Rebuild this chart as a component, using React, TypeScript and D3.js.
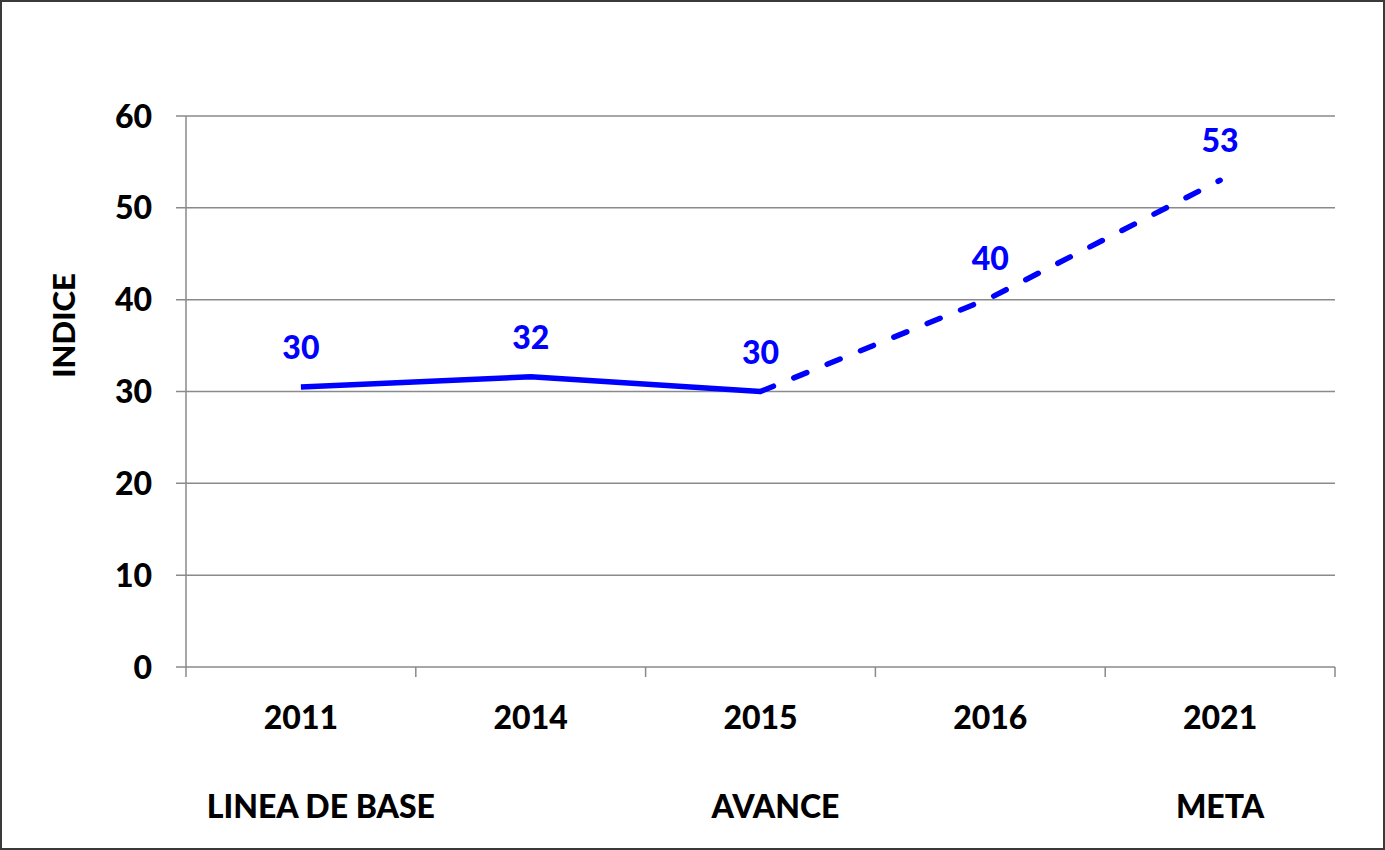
import React, { useEffect, useRef } from "react";
import * as d3 from "d3";

const years = ["2011", "2014", "2015", "2016", "2021"];
const indice = [30.5, 31.6, 30, 40.2, 53];
const valueLabels = ["30", "32", "30", "40", "53"];
// which points are measured (solid) and which are projected (dashed)
const measuredUntil = 2; // index of 2015
const stageLabels = [
  { year: "2011", text: "LINEA DE BASE", dx: 20 },
  { year: "2015", text: "AVANCE", dx: 15 },
  { year: "2021", text: "META", dx: 0 },
];
const yTicks = [0, 10, 20, 30, 40, 50, 60];

const W = 1385;
const H = 850;
const FONT = "Lato, 'Open Sans', sans-serif";
const WEIGHT = 900;

export default function App() {
  const ref = useRef<SVGSVGElement>(null);

  useEffect(() => {
    const svg = d3.select(ref.current);
    svg.selectAll("*").remove();

    const left = 186, right = 1335, top = 116, bottom = 667;

    const x = d3.scaleBand().domain(years).range([left, right]);
    const y = d3.scaleLinear().domain([0, 60]).range([bottom, top]);
    const cx = (d: string) => (x(d) as number) + x.bandwidth() / 2;

    // outer frame
    svg.append("rect")
      .attr("x", 1).attr("y", 1)
      .attr("width", W - 2).attr("height", H - 2)
      .attr("fill", "#fff")
      .attr("stroke", "#3a3a3a")
      .attr("stroke-width", 2);

    // horizontal gridlines + y ticks
    svg.append("g")
      .selectAll("line")
      .data(yTicks)
      .enter()
      .append("line")
      .attr("x1", left - 10)
      .attr("x2", right)
      .attr("y1", d => y(d))
      .attr("y2", d => y(d))
      .attr("stroke", "#8a8a8a")
      .attr("stroke-width", 1.5);

    svg.append("g")
      .selectAll("text")
      .data(yTicks)
      .enter()
      .append("text")
      .attr("x", left - 34)
      .attr("y", d => y(d))
      .attr("dy", "0.36em")
      .attr("text-anchor", "end")
      .attr("font-family", FONT)
      .attr("font-weight", WEIGHT)
      .attr("font-size", 32)
      .attr("fill", "#000")
      .text(d => d);

    // y axis line
    svg.append("line")
      .attr("x1", left).attr("x2", left)
      .attr("y1", top).attr("y2", bottom + 10)
      .attr("stroke", "#8a8a8a")
      .attr("stroke-width", 1.5);

    // x axis ticks at band edges
    const edges = years.map(d => x(d) as number).concat([right]);
    svg.append("g")
      .selectAll("line")
      .data(edges.slice(1))
      .enter()
      .append("line")
      .attr("x1", d => d).attr("x2", d => d)
      .attr("y1", bottom).attr("y2", bottom + 10)
      .attr("stroke", "#8a8a8a")
      .attr("stroke-width", 1.5);

    // category labels
    svg.append("g")
      .selectAll("text")
      .data(years)
      .enter()
      .append("text")
      .attr("x", d => cx(d))
      .attr("y", bottom + 62)
      .attr("text-anchor", "middle")
      .attr("font-family", FONT)
      .attr("font-weight", WEIGHT)
      .attr("font-size", 32)
      .text(d => d);

    svg.append("g")
      .selectAll("text")
      .data(stageLabels)
      .enter()
      .append("text")
      .attr("x", d => cx(d.year) + d.dx)
      .attr("y", bottom + 151)
      .attr("text-anchor", "middle")
      .attr("font-family", FONT)
      .attr("font-weight", WEIGHT)
      .attr("font-size", 32)
      .text(d => d.text);

    // y axis title
    svg.append("text")
      .attr("transform", `translate(75, ${(top + bottom) / 2 - 66}) rotate(-90)`)
      .attr("text-anchor", "middle")
      .attr("font-family", FONT)
      .attr("font-weight", WEIGHT)
      .attr("font-size", 31)
      .text("INDICE");

    const pts = years.map((d, i) => ({ year: d, v: indice[i], label: valueLabels[i] }));
    const line = d3.line<{ year: string; v: number }>()
      .x(d => cx(d.year))
      .y(d => y(d.v));

    svg.append("path")
      .datum(pts.slice(0, measuredUntil + 1))
      .attr("d", line)
      .attr("fill", "none")
      .attr("stroke", "#0000ff")
      .attr("stroke-width", 5.5)
      .attr("stroke-linejoin", "round");

    svg.append("path")
      .datum(pts.slice(measuredUntil))
      .attr("d", line)
      .attr("fill", "none")
      .attr("stroke", "#0000ff")
      .attr("stroke-width", 5.5)
      .attr("stroke-linecap", "round")
      .attr("stroke-dasharray", "14 22");

    // value labels
    svg.append("g")
      .selectAll("text")
      .data(pts)
      .enter()
      .append("text")
      .attr("x", d => cx(d.year))
      .attr("y", d => y(d.v) - 28)
      .attr("text-anchor", "middle")
      .attr("font-family", FONT)
      .attr("font-weight", WEIGHT)
      .attr("font-size", 32)
      .attr("fill", "#0000ff")
      .text(d => d.label);
  }, []);

  return (
    <svg
      ref={ref}
      width={W}
      height={H}
      style={{ position: "absolute", left: 0, top: 0, display: "block" }}
    />
  );
}
